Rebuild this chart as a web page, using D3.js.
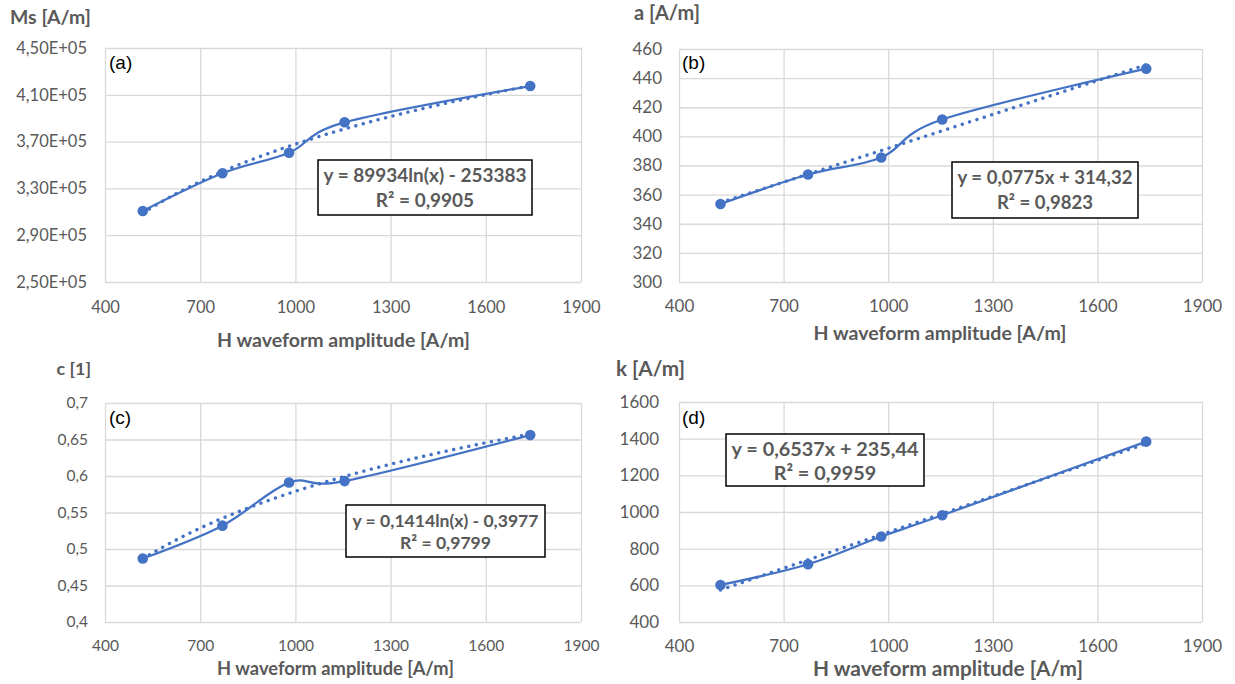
<!DOCTYPE html>
<html>
<head>
<meta charset="utf-8">
<script src="https://cdn.jsdelivr.net/npm/d3@7/dist/d3.min.js"></script>
<style>
  html, body { margin: 0; padding: 0; background: #ffffff; }
  svg { display: block; }
</style>
</head>
<body>
<svg id="chart" width="1235" height="684"></svg>
<script>
// ---------------- DATA ----------------
const hAmplitude = [519, 770, 980, 1155, 1740];          // H waveform amplitude [A/m]
const msValues   = [310700, 342900, 360500, 386500, 417500]; // Ms [A/m]
const aValues    = [353.6, 373.8, 385.5, 411.6, 446.5];  // a [A/m]
const cValues    = [0.487, 0.532, 0.591, 0.593, 0.656];  // c [1]
const kValues    = [602, 715, 866, 982, 1384];           // k [A/m]

const xTicks  = [400, 700, 1000, 1300, 1600, 1900];
const msTicks = [250000, 290000, 330000, 370000, 410000, 450000];
const aTicks  = [300, 320, 340, 360, 380, 400, 420, 440, 460];
const cTicks  = [0.4, 0.45, 0.5, 0.55, 0.6, 0.65, 0.7];
const kTicks  = [400, 600, 800, 1000, 1200, 1400, 1600];

// trendline types and coefficients as printed on the chart
const trendTypes  = ["log", "linear", "log", "linear"];
const trendSlope  = [89934, 0.0775, 0.1414, 0.6537];
const trendOffset = [-253383, 314.32, -0.3977, 235.44];
const eqLine1 = ["y = 89934ln(x) - 253383", "y = 0,0775x + 314,32", "y = 0,1414ln(x) - 0,3977", "y = 0,6537x + 235,44"];
const eqLine2 = ["R² = 0,9905", "R² = 0,9823", "R² = 0,9799", "R² = 0,9959"];
const yTitles = ["Ms [A/m]", "a [A/m]", "c [1]", "k [A/m]"];
const panelTags = ["(a)", "(b)", "(c)", "(d)"];
const xTitle = "H waveform amplitude [A/m]";

// ---------------- FORMATTERS ----------------
function sciComma(v) {
  const exp = Math.floor(Math.log10(v));
  const mant = v / Math.pow(10, exp);
  return mant.toFixed(2).replace(".", ",") + "E+" + String(exp).padStart(2, "0");
}
function decComma(v) { return String(+v.toFixed(4)).replace(".", ","); }

// ---------------- LAYOUT ----------------
const panels = [
  { values: msValues, yTicks: msTicks, fmt: sciComma,
    L: 105, R: 581, T: 48, B: 282, tickFs: 16.5, yPad: 18, xLabY: 25,
    yTitle: {x: 10, y: 17, w: 81}, xTitleP: {cx: 343.5, y: 340, w: 253},
    tag: {x: 109, y: 62}, box: {x0: 318, x1: 532, y0: 160, y1: 215, l1: 175, l2: 200, w: 203} },
  { values: aValues, yTicks: aTicks, fmt: decComma,
    L: 679, R: 1202, T: 49, B: 282, tickFs: 17, yPad: 17, xLabY: 24,
    yTitle: {x: 634, y: 13, w: 66}, xTitleP: {cx: 940, y: 333, w: 253},
    tag: {x: 682, y: 62}, box: {x0: 952, x1: 1138, y0: 162, y1: 218, l1: 178, l2: 203, w: 175} },
  { values: cValues, yTicks: cTicks, fmt: decComma,
    L: 105, R: 581, T: 403, B: 622, tickFs: 15.5, yPad: 17, xLabY: 24,
    yTitle: {x: 56.5, y: 369, w: 34.5}, xTitleP: {cx: 335.5, y: 669, w: 237},
    tag: {x: 109, y: 417}, box: {x0: 346, x1: 545, y0: 505, y1: 557, l1: 521, l2: 543, w: 186} },
  { values: kValues, yTicks: kTicks, fmt: decComma,
    L: 679, R: 1202, T: 402, B: 622, tickFs: 17, yPad: 20, xLabY: 24,
    yTitle: {x: 616, y: 369, w: 69}, xTitleP: {cx: 948, y: 669, w: 270},
    tag: {x: 682, y: 417}, box: {x0: 726, x1: 924, y0: 434, y1: 486, l1: 449, l2: 473, w: 187} }
];

const BLUE = "#4472C4";
const GRID = "#D9D9D9";
const TXT = "#595959";
const FONT = "Lato, 'Open Sans', sans-serif";

const svg = d3.select("#chart");

function fitWidth(sel, target) {
  const node = sel.node();
  const fs = parseFloat(sel.attr("font-size"));
  const len = node.getComputedTextLength();
  if (len > 0) sel.attr("font-size", (fs * target / len).toFixed(2));
}

panels.forEach((p, i) => {
  const g = svg.append("g");
  const x = d3.scaleLinear().domain([xTicks[0], xTicks[xTicks.length - 1]]).range([p.L, p.R]);
  const y = d3.scaleLinear().domain([p.yTicks[0], p.yTicks[p.yTicks.length - 1]]).range([p.B, p.T]);

  // Y gridlines + labels
  const yAx = g.append("g").attr("transform", `translate(${p.L},0)`)
    .call(d3.axisLeft(y).tickValues(p.yTicks).tickFormat(p.fmt).tickSize(-(p.R - p.L)).tickPadding(p.yPad));
  yAx.select(".domain").remove();
  yAx.selectAll(".tick line").attr("stroke", GRID).attr("stroke-width", 1.3);
  yAx.selectAll(".tick text").attr("fill", TXT).attr("font-family", FONT).attr("font-size", p.tickFs);

  // X gridlines + labels
  const xAx = g.append("g").attr("transform", `translate(0,${p.B})`)
    .call(d3.axisBottom(x).tickValues(xTicks).tickFormat(d3.format("d")).tickSize(-(p.B - p.T)).tickPadding(0));
  xAx.select(".domain").remove();
  xAx.selectAll(".tick line").attr("stroke", GRID).attr("stroke-width", 1.3);
  xAx.selectAll(".tick text").attr("fill", TXT).attr("font-family", FONT).attr("font-size", p.tickFs)
    .attr("y", p.xLabY).attr("dy", "0.35em");

  // Trendline (round-dotted)
  const xmin = d3.min(hAmplitude), xmax = d3.max(hAmplitude);
  const samples = d3.range(0, 61).map(j => xmin + (xmax - xmin) * j / 60);
  const f = trendTypes[i] === "log"
    ? (h => trendSlope[i] * Math.log(h) + trendOffset[i])
    : (h => trendSlope[i] * h + trendOffset[i]);
  g.append("path")
    .attr("d", d3.line().x(h => x(h)).y(h => y(f(h)))(samples))
    .attr("fill", "none").attr("stroke", BLUE).attr("stroke-width", 3.4)
    .attr("stroke-linecap", "round").attr("stroke-dasharray", "0.1 7.6");

  // Smoothed series line
  const pts = hAmplitude.map((h, j) => [h, p.values[j]]);
  g.append("path")
    .attr("d", d3.line().x(d => x(d[0])).y(d => y(d[1])).curve(d3.curveCardinal.tension(0))(pts))
    .attr("fill", "none").attr("stroke", BLUE).attr("stroke-width", 2.25);

  g.selectAll("circle.pt").data(pts).enter().append("circle")
    .attr("cx", d => x(d[0])).attr("cy", d => y(d[1])).attr("r", 5.3).attr("fill", BLUE);

  // Panel tag
  g.append("text").attr("x", p.tag.x).attr("y", p.tag.y).attr("dy", "0.35em")
    .attr("font-family", "'Liberation Sans', Arial, sans-serif").attr("font-size", 19).attr("fill", "#000")
    .text(panelTags[i]);

  // Y title
  const yt = g.append("text").attr("x", p.yTitle.x).attr("y", p.yTitle.y).attr("dy", "0.35em")
    .attr("font-family", FONT).attr("font-weight", "bold").attr("font-size", 19).attr("fill", TXT)
    .text(yTitles[i]);
  fitWidth(yt, p.yTitle.w);

  // X title
  const xt = g.append("text").attr("x", p.xTitleP.cx).attr("y", p.xTitleP.y).attr("dy", "0.35em")
    .attr("text-anchor", "middle")
    .attr("font-family", FONT).attr("font-weight", "bold").attr("font-size", 19).attr("fill", TXT)
    .text(xTitle);
  fitWidth(xt, p.xTitleP.w);

  // Equation box
  const b = p.box;
  g.append("rect").attr("x", b.x0).attr("y", b.y0).attr("width", b.x1 - b.x0).attr("height", b.y1 - b.y0)
    .attr("fill", "#fff").attr("stroke", "#000").attr("stroke-width", 1.5);
  const cx = (b.x0 + b.x1) / 2;
  const e1 = g.append("text").attr("x", cx).attr("y", b.l1).attr("dy", "0.35em").attr("text-anchor", "middle")
    .attr("font-family", FONT).attr("font-weight", "bold").attr("font-size", 18).attr("fill", TXT)
    .text(eqLine1[i]);
  fitWidth(e1, b.w);
  g.append("text").attr("x", cx).attr("y", b.l2).attr("dy", "0.35em").attr("text-anchor", "middle")
    .attr("font-family", FONT).attr("font-weight", "bold").attr("font-size", e1.attr("font-size")).attr("fill", TXT)
    .text(eqLine2[i]);
});
</script>
</body>
</html>
